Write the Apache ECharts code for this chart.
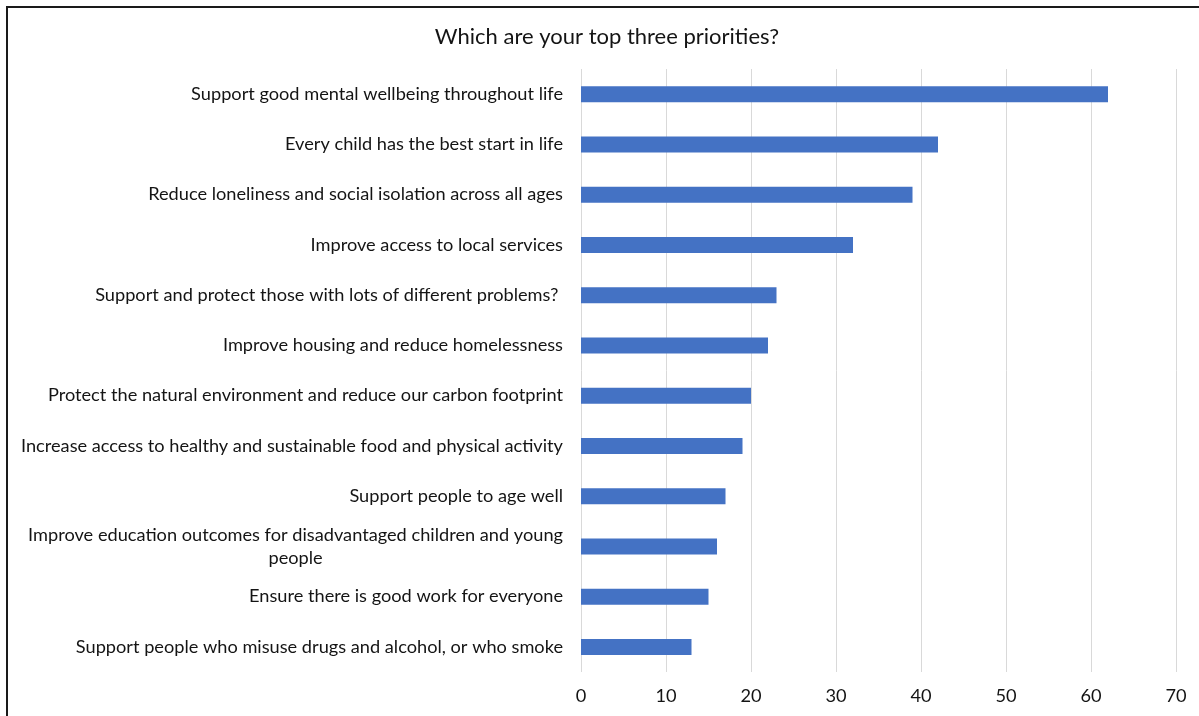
<!DOCTYPE html>
<html>
<head>
<meta charset="utf-8">
<style>
  html, body { margin: 0; padding: 0; background: #fff; }
  #chart { width: 1199px; height: 716px; }
</style>
<script src="https://cdn.jsdelivr.net/npm/echarts@6/dist/echarts.min.js"></script>
</head>
<body>
<div id="chart"></div>
<script>
// Survey responses: number of people choosing each priority in their top three
const categories = [
  'Support good mental wellbeing throughout life',
  'Every child has the best start in life',
  'Reduce loneliness and social isolation across all ages',
  'Improve access to local services',
  'Support and protect those with lots of different problems? ',
  'Improve housing and reduce homelessness',
  'Protect the natural environment and reduce our carbon footprint',
  'Increase access to healthy and sustainable food and physical activity',
  'Support people to age well',
  'Improve education outcomes for disadvantaged children and young\npeople',
  'Ensure there is good work for everyone',
  'Support people who misuse drugs and alcohol, or who smoke'
];
const responses = [62, 42, 39, 32, 23, 22, 20, 19, 17, 16, 15, 13];
const xTicks = { min: 0, max: 70, interval: 10 };

const FONT = 'Lato';
const LABEL_SIZE = 18.2;
const TEXT_COLOR = '#141414';

// Width of a text line, used to place the second line of wrapped labels
const measureCtx = document.createElement('canvas').getContext('2d');
measureCtx.font = LABEL_SIZE + 'px ' + FONT;
function textWidth(s) { return Math.ceil(measureCtx.measureText(s).width); }

const chart = echarts.init(document.getElementById('chart'));

chart.setOption({
  backgroundColor: '#ffffff',
  animation: false,
  title: {
    text: 'Which are your top three priorities?',
    left: 602,
    textAlign: 'center',
    top: 21,
    textStyle: { fontFamily: FONT, fontSize: 22, fontWeight: 'normal', color: TEXT_COLOR }
  },
  graphic: [{
    type: 'rect',
    shape: { x: 7, y: 7, width: 1300, height: 800 },
    style: { fill: 'none', stroke: '#1a1a1a', lineWidth: 2 },
    silent: true
  }],
  grid: { left: 581, right: 23, top: 69, bottom: 44 },
  xAxis: {
    type: 'value',
    min: xTicks.min,
    max: xTicks.max,
    interval: xTicks.interval,
    axisLine: { show: false },
    axisTick: { show: false },
    splitLine: { show: true, lineStyle: { color: '#d9d9d9', width: 1 } },
    axisLabel: { fontFamily: FONT, fontSize: LABEL_SIZE, color: TEXT_COLOR, margin: 15 }
  },
  yAxis: {
    type: 'category',
    inverse: true,
    data: categories,
    axisLine: { show: false },
    axisTick: { show: false },
    axisLabel: {
      fontFamily: FONT,
      fontSize: LABEL_SIZE,
      color: TEXT_COLOR,
      margin: 18,
      lineHeight: 23,
      formatter: function (value) {
        const lines = value.split('\n');
        if (lines.length === 1) return value;
        return lines[0] + '\n{c|' + lines.slice(1).join(' ') + '}';
      },
      rich: {
        c: {
          width: textWidth('Improve education outcomes for disadvantaged children and young ') - 44,
          align: 'center', fontFamily: FONT, fontSize: LABEL_SIZE, color: TEXT_COLOR, lineHeight: 23
        }
      }
    }
  },
  series: [{
    type: 'bar',
    data: responses,
    barWidth: 16,
    itemStyle: { color: '#4472C4' }
  }]
});
</script>
</body>
</html>
